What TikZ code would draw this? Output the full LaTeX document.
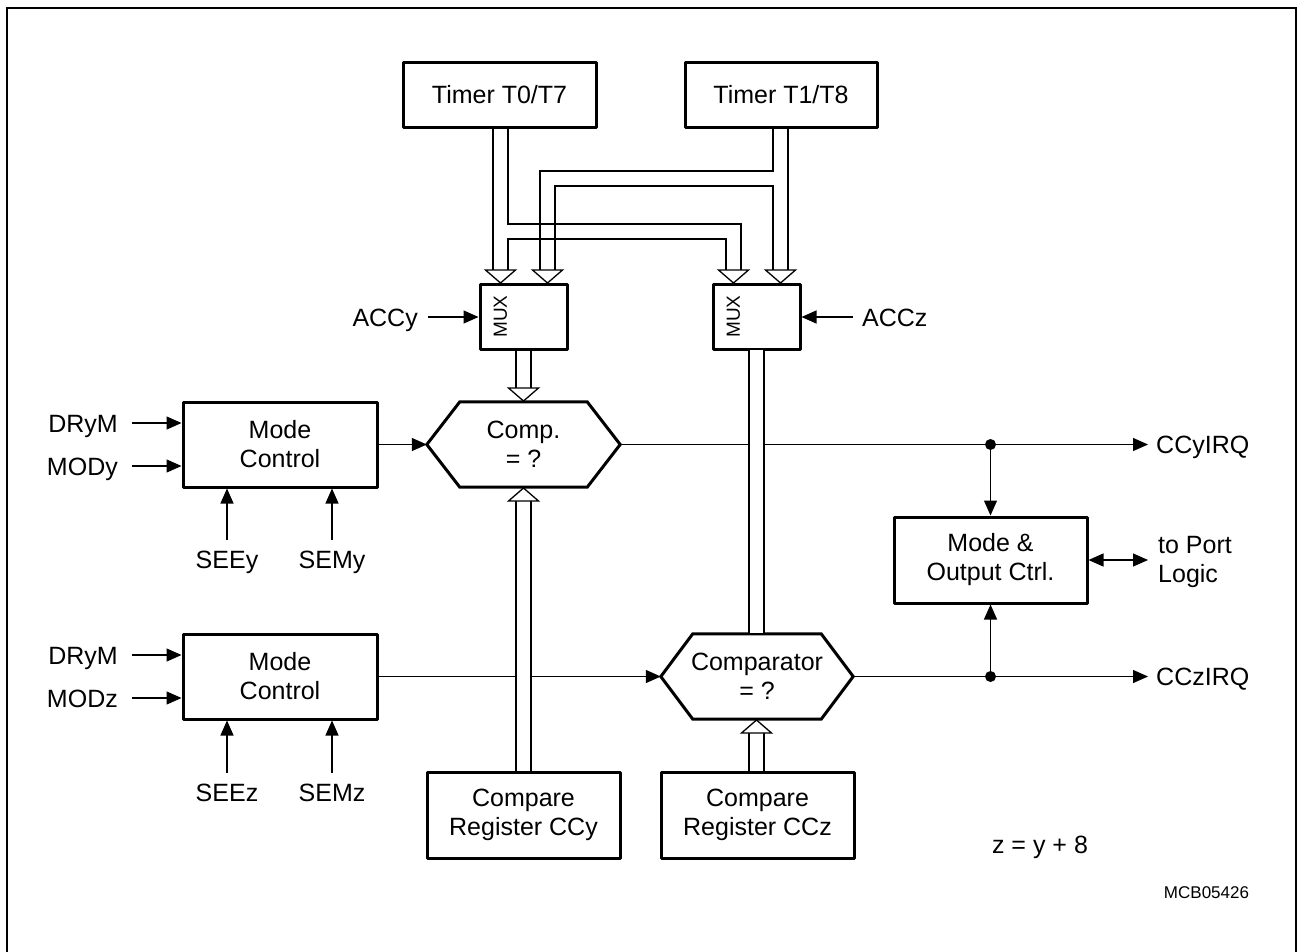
\documentclass[tikz,border=0pt]{standalone}
\usepackage{fontspec}
\setmainfont{Liberation Sans}
\usetikzlibrary{arrows.meta,calc}
\newcommand\myhex[2]{% node name, point offset
  \draw[hexline] (#1.west) -- ($(#1.north west)+(#2,0)$) -- ($(#1.north east)+(-#2,0)$) -- (#1.east) -- ($(#1.south east)+(-#2,0)$) -- ($(#1.south west)+(#2,0)$) -- cycle;}
\newcommand\myheaddown[3]{% center x, base y, tip y
  \filldraw[thin,fill=white] (#1-15,#2) -- (#1,#3) -- (#1+15,#2) -- cycle;}
\begin{document}
\begin{tikzpicture}[x=1pt,y=-1pt,
  mainfont/.style={font=\fontsize{25}{29}\selectfont},
  box/.style={draw,line width=3pt,inner sep=0pt,align=center,mainfont,line join=round},
  hexbox/.style={inner sep=0pt,align=center,mainfont},
  hexline/.style={line width=3pt,line join=miter},
  thin/.style={line width=1.3pt},
  arr/.style={thin,-{Triangle[length=15pt,width=13pt]}},
  lbl/.style={inner sep=0pt,mainfont,text height=18pt,text depth=0pt},
  dot/.style={circle,fill,inner sep=0pt,minimum size=11pt}
]
\useasboundingbox (0,0) rectangle (1297,951);
% frame
\draw[line width=2pt] (7,952) -- (7,8) -- (1296,8) -- (1296,952);

% blocks
\node[box,minimum width=193pt,minimum height=65pt] (t0) at (499.5,94.5) {Timer T0/T7};
\node[box,minimum width=192pt,minimum height=65pt] (t1) at (781,94.5) {Timer T1/T8};
\node[box,minimum width=87pt,minimum height=65pt] (muxy) at (523.5,316.5) {};
\node[box,minimum width=87pt,minimum height=65pt] (muxz) at (756.5,316.5) {};
\node[rotate=90,inner sep=0pt,font=\fontsize{19}{20}\selectfont] (muxyl) at (500.5,316.5) {MUX};
\node[rotate=90,inner sep=0pt,font=\fontsize{19}{20}\selectfont] (muxzl) at (733.5,316.5) {MUX};
\node[box,minimum width=194pt,minimum height=85pt] (mcy) at (280,444.5) {Mode\\Control};
\node[box,minimum width=194pt,minimum height=85pt] (mcz) at (280,676.5) {Mode\\Control};
\node[hexbox,minimum width=193pt,minimum height=85pt] (cmp) at (523.5,444.5) {Comp.\\= ?};
\node[hexbox,minimum width=192pt,minimum height=85pt] (cmpz) at (757,676.5) {Comparator\\= ?};
\myhex{cmp}{33}
\myhex{cmpz}{32}
\node[box,minimum width=193pt,minimum height=86pt] (regy) at (523.5,815) {Compare\\Register CCy};
\node[box,minimum width=193pt,minimum height=86pt] (regz) at (757.5,815) {Compare\\Register CCz};
\node[box,minimum width=193pt,minimum height=86pt] (mo) at (990.5,560) {Mode \&\\Output Ctrl.};

% labels
\node[lbl,anchor=east] (accy) at (418,317) {ACCy};
\node[lbl,anchor=west] (accz) at (862,317) {ACCz};
\node[lbl,anchor=east] (drym1) at (118,423) {DRyM};
\node[lbl,anchor=east] (mody) at (118,466) {MODy};
\node[lbl,anchor=east] (drym2) at (118,655) {DRyM};
\node[lbl,anchor=east] (modz) at (118,698) {MODz};
\node[lbl] (seey) at (227,559) {SEEy};
\node[lbl] (semy) at (332,559) {SEMy};
\node[lbl] (seez) at (227,792) {SEEz};
\node[lbl] (semz) at (332,792) {SEMz};
\node[lbl,anchor=west] (ccyirq) at (1156,444.5) {CCyIRQ};
\node[lbl,anchor=west] (cczirq) at (1156,676.5) {CCzIRQ};
\node[inner sep=0pt,mainfont,align=left,anchor=west] (port) at (1158,562) {to Port\\Logic};
\node[inner sep=0pt,mainfont] (eq) at (1040,847) {z = y + 8};
\node[inner sep=0pt,font=\fontsize{17}{20}\selectfont] (code) at (1206.5,893) {MCB05426};

% signal arrows
\draw[arr] ([xshift=10pt]accy.east) -- (accy.east -| muxy.west);
\draw[arr] ([xshift=-9pt]accz.west) -- (accz.west -| muxz.east);
\draw[arr] ([xshift=14pt]drym1.east) -- (drym1.east -| mcy.west);
\draw[arr] ([xshift=14pt]mody.east) -- (mody.east -| mcy.west);
\draw[arr] ([xshift=14pt]drym2.east) -- (drym2.east -| mcz.west);
\draw[arr] ([xshift=14pt]modz.east) -- (modz.east -| mcz.west);
\draw[arr] ([yshift=10pt]seey.north) -- (seey.north |- mcy.south);
\draw[arr] ([yshift=10pt]semy.north) -- (semy.north |- mcy.south);
\draw[arr] ([yshift=10pt]seez.north) -- (seez.north |- mcz.south);
\draw[arr] ([yshift=10pt]semz.north) -- (semz.north |- mcz.south);
\draw[arr] (mcy.east) -- (cmp.west);
\draw[arr] (mcz.east) -- (cmpz.west);
\draw[arr] (cmp.east) -- ([xshift=-8pt]ccyirq.west);
\draw[arr] (cmpz.east) -- ([xshift=-8pt]cczirq.west);
\coordinate (d1) at (cmp.east -| mo.north);
\coordinate (d2) at (cmpz.east -| mo.south);
\node[dot] at (d1) {};
\node[dot] at (d2) {};
\draw[arr] (d1) -- (mo.north);
\draw[arr] (d2) -- (mo.south);
\draw[thin,{Triangle[length=15pt,width=13pt]}-{Triangle[length=15pt,width=13pt]}] (mo.east) -- ([xshift=-10pt]port.west |- mo.east);

% buses from timers
\draw[thin] (493,127) -- (493,270);
\draw[thin] (508,127) -- (508,224) -- (741,224) -- (741,270);
\draw[thin] (508,270) -- (508,239) -- (726,239) -- (726,270);
\draw[thin] (788,127) -- (788,270);
\draw[thin] (773,127) -- (773,171) -- (540,171) -- (540,270);
\draw[thin] (773,270) -- (773,186) -- (555,186) -- (555,270);
\myheaddown{500.5}{270}{283}
\myheaddown{547.5}{270}{283}
\myheaddown{733.5}{270}{283}
\myheaddown{780.5}{270}{283}

% MUXy -> Comp
\draw[thin] (516,349) -- (516,388) (531,349) -- (531,388);
\myheaddown{523.5}{388}{401}
% MUXz -> Comparator
\fill[white] (749,350) rectangle (764,633);
\draw[thin] (749,349) -- (749,634) (764,349) -- (764,634);
% CCy register -> Comp
\fill[white] (516,501) rectangle (531,771);
\draw[thin] (516,772) -- (516,501) (531,772) -- (531,501);
\myheaddown{523.5}{501}{488}
% CCz register -> Comparator
\draw[thin] (749,772) -- (749,733) (764,772) -- (764,733);
\myheaddown{756.5}{733}{720}
\end{tikzpicture}
\end{document}
